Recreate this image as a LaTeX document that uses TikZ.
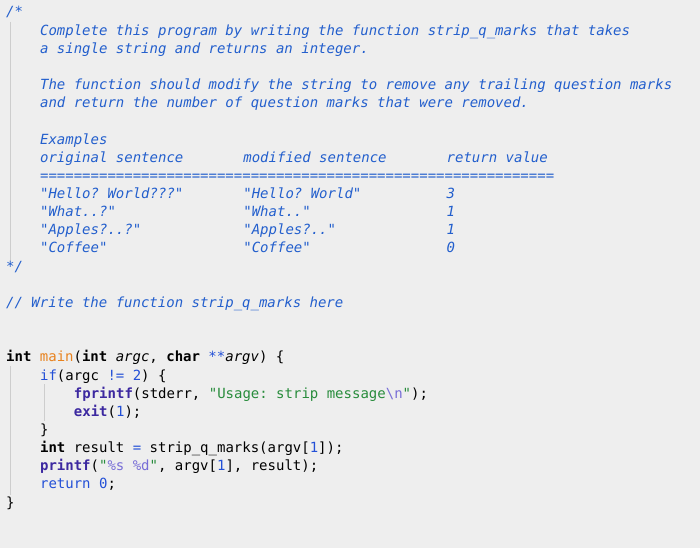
\documentclass[tikz,border=0pt]{standalone}
\usepackage{fontspec}
\setmonofont{DejaVu Sans Mono}
\definecolor{bg}{RGB}{238,238,238}
\definecolor{cmt}{RGB}{35,95,205}
\definecolor{kw}{RGB}{35,80,215}
\definecolor{fn}{RGB}{60,40,160}
\definecolor{str}{RGB}{40,140,60}
\definecolor{esc}{RGB}{120,110,215}
\definecolor{org}{RGB}{232,130,30}
\definecolor{guide}{RGB}{205,205,205}
\newcommand{\Lx}[4]{\node[linetext] (#1) at ({6+8.47*#2},{12+18.15*#3+5}) {#4};}
\begin{document}
\begin{tikzpicture}[x=1pt,y=-1pt,
  txtbase/.style={anchor=base west,inner sep=0pt,font=\ttfamily\fontsize{14}{18}\selectfont},
  cmtext/.style={txtbase,text=cmt,font=\ttfamily\itshape\fontsize{14}{18}\selectfont},
  gd/.style={draw=guide,line width=0.8pt}]
\fill[bg] (0,0) rectangle (700,548);
\useasboundingbox (0,0) rectangle (700,548);
\draw[gd] (10,22) -- (10,262);
\draw[gd] (10,366) -- (10,495);
\draw[gd] (44,384) -- (44,421);
\tikzset{linetext/.style={cmtext}}
\Lx{c0}{0}{0}{/*}
\Lx{c1}{4}{1}{Complete this program by writing the function strip\_q\_marks that takes}
\Lx{c2}{4}{2}{a single string and returns an integer.}
\Lx{c4}{4}{4}{The function should modify the string to remove any trailing question marks}
\Lx{c5}{4}{5}{and return the number of question marks that were removed.}
\Lx{c7}{4}{7}{Examples}
\Lx{h1}{4}{8}{original sentence}
\Lx{h2}{28}{8}{modified sentence}
\Lx{h3}{52}{8}{return value}
\Lx{eq}{4}{9}{=============================================================}
\Lx{a1}{4}{10}{"Hello? World???"}
\Lx{a2}{28}{10}{"Hello? World"}
\Lx{a3}{52}{10}{3}
\Lx{b1}{4}{11}{"What..?"}
\Lx{b2}{28}{11}{"What.."}
\Lx{b3}{52}{11}{1}
\Lx{d1}{4}{12}{"Apples?..?"}
\Lx{d2}{28}{12}{"Apples?.."}
\Lx{d3}{52}{12}{1}
\Lx{e1}{4}{13}{"Coffee"}
\Lx{e2}{28}{13}{"Coffee"}
\Lx{e3}{52}{13}{0}
\Lx{c14}{0}{14}{*/}
\Lx{c16}{0}{16}{// Write the function strip\_q\_marks here}
\tikzset{linetext/.style={txtbase}}
\Lx{m0}{0}{19}{\textbf{int} \textcolor{org}{main}(\textbf{int} \textit{argc}, \textbf{char} \textcolor{kw}{**}\textit{argv}) \{}
\Lx{m1}{4}{20}{\textcolor{kw}{if}(argc \textcolor{kw}{!=} \textcolor{kw}{2}) \{}
\Lx{m2}{8}{21}{\textcolor{fn}{\textbf{fprintf}}(stderr, \textcolor{str}{"Usage: strip message}\textcolor{esc}{\textbackslash n}\textcolor{str}{"});}
\Lx{m3}{8}{22}{\textcolor{fn}{\textbf{exit}}(\textcolor{kw}{1});}
\Lx{m4}{4}{23}{\}}
\Lx{m5}{4}{24}{\textbf{int} result \textcolor{kw}{=} strip\_q\_marks(argv[\textcolor{kw}{1}]);}
\Lx{m6}{4}{25}{\textcolor{fn}{\textbf{printf}}(\textcolor{str}{"}\textcolor{esc}{\%s \%d}\textcolor{str}{"}, argv[\textcolor{kw}{1}], result);}
\Lx{m7}{4}{26}{\textcolor{kw}{return} \textcolor{kw}{0};}
\Lx{m8}{0}{27}{\}}
\end{tikzpicture}
\end{document}
